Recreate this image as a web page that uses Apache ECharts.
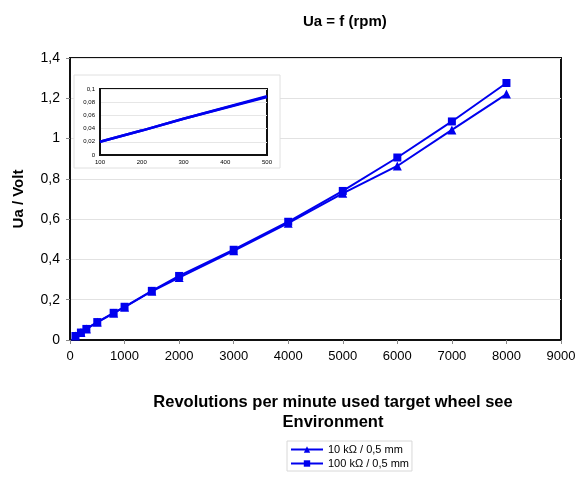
<!DOCTYPE html>
<html><head><meta charset="utf-8">
<script src="https://cdn.jsdelivr.net/npm/echarts@6/dist/echarts.min.js"></script>
<style>html,body{margin:0;padding:0;background:#fff}#c{width:581px;height:477px}</style>
</head><body><div id="c"></div>
<script>
var rpm = [100, 200, 300, 500, 800, 1000, 1500, 2000, 3000, 4000, 5000, 6000, 7000, 8000];
var ua10k = [0.02, 0.037, 0.055, 0.088, 0.133, 0.163, 0.242, 0.31, 0.443, 0.58, 0.728, 0.864, 1.043, 1.221];
var ua100k = [0.02, 0.037, 0.055, 0.089, 0.135, 0.165, 0.244, 0.318, 0.448, 0.587, 0.74, 0.906, 1.085, 1.276];
var seriesNames = ['10 kΩ / 0,5 mm', '100 kΩ / 0,5 mm'];
var insetMaxRpm = 500;

function pairs(xs, ys, maxX) {
  var out = [];
  for (var i = 0; i < xs.length; i++) if (maxX == null || xs[i] <= maxX) out.push([xs[i], ys[i]]);
  return out;
}
function comma(v) { return String(+v.toFixed(3)).replace('.', ','); }
function plain(v) { return String(v); }

var blue = '#0000ee';
var chart = echarts.init(document.getElementById('c'));
chart.setOption({
  animation: false,
  backgroundColor: '#fff',
  textStyle: { fontFamily: 'Liberation Sans, Arial, sans-serif' },
  title: {
    text: 'Ua = f (rpm)', left: 298, top: 9,
    textStyle: { fontSize: 15, fontWeight: 'bold', color: '#000' }
  },
  legend: {
    orient: 'vertical', left: 287, top: 441, itemGap: 3, itemWidth: 32, itemHeight: 8,
    padding: [3, 3, 2, 3], borderColor: '#d8d8d8', borderWidth: 1,
    textStyle: { fontSize: 11, color: '#000' },
    data: seriesNames
  },
  graphic: [{
    type: 'rect', z: 1, shape: { x: 74, y: 75, width: 206, height: 93 },
    style: { fill: '#fff', stroke: '#e0e0e0', lineWidth: 1 }
  }, {
    type: 'text', z: 1, x: 333, y: 392,
    style: { text: 'Revolutions per minute used target wheel see\nEnvironment', align: 'center',
      fontSize: 16.5, fontWeight: 'bold', fill: '#000', lineHeight: 20,
      fontFamily: 'Liberation Sans, Arial, sans-serif' }
  }],
  grid: [
    { left: 70, right: 20, top: 58, bottom: 137, show: true, borderColor: '#111', borderWidth: 2, z: 0 },
    { left: 100, right: 314, top: 89, bottom: 322, show: true, borderColor: '#111', borderWidth: 2, backgroundColor: '#fff', z: 2 }
  ],
  xAxis: [
    { gridIndex: 0, type: 'value', min: 0, max: 9000, interval: 1000,
      axisLine: { lineStyle: { color: '#111', width: 2 } },
      axisTick: { show: true, length: 4, lineStyle: { color: '#888' } },
      axisLabel: { fontSize: 13, color: '#000', margin: 10, formatter: plain },
      splitLine: { show: false } },
    { gridIndex: 1, type: 'value', min: 100, max: 500, interval: 100, z: 3,
      axisLine: { lineStyle: { color: '#111', width: 2 } },
      axisTick: { show: false },
      axisLabel: { fontSize: 6, color: '#000', margin: 4, formatter: plain },
      splitLine: { show: false } }
  ],
  yAxis: [
    { gridIndex: 0, type: 'value', min: 0, max: 1.4, interval: 0.2,
      name: 'Ua / Volt', nameLocation: 'middle', nameGap: 44,
      nameTextStyle: { fontSize: 15, fontWeight: 'bold', color: '#000' },
      axisLine: { lineStyle: { color: '#111', width: 2 } },
      axisTick: { show: true, length: 4, lineStyle: { color: '#888' } },
      axisLabel: { fontSize: 14, color: '#000', margin: 10, formatter: comma },
      splitLine: { show: true, lineStyle: { color: '#e2e2e2', width: 1 } } },
    { gridIndex: 1, type: 'value', min: 0, max: 0.1, interval: 0.02, z: 3,
      axisLine: { lineStyle: { color: '#111', width: 2 } },
      axisTick: { show: false },
      axisLabel: { fontSize: 6, color: '#000', margin: 5, formatter: comma },
      splitLine: { show: true, lineStyle: { color: '#e6e6e6', width: 1 } } }
  ],
  series: [
    { name: seriesNames[0], type: 'line', xAxisIndex: 0, yAxisIndex: 0, z: 3,
      data: pairs(rpm, ua10k), symbol: 'triangle', symbolSize: 9,
      lineStyle: { color: blue, width: 2 }, itemStyle: { color: blue } },
    { name: seriesNames[1], type: 'line', xAxisIndex: 0, yAxisIndex: 0, z: 3,
      data: pairs(rpm, ua100k), symbol: 'rect', symbolSize: 8,
      lineStyle: { color: blue, width: 2 }, itemStyle: { color: blue } },
    { name: 'inset1', type: 'line', xAxisIndex: 1, yAxisIndex: 1, z: 5,
      data: pairs(rpm, ua10k, insetMaxRpm), showSymbol: false, symbol: 'none',
      lineStyle: { color: blue, width: 2.5 } },
    { name: 'inset2', type: 'line', xAxisIndex: 1, yAxisIndex: 1, z: 5,
      data: pairs(rpm, ua100k, insetMaxRpm), showSymbol: false, symbol: 'none',
      lineStyle: { color: blue, width: 2.5 } }
  ]
});
</script></body></html>
